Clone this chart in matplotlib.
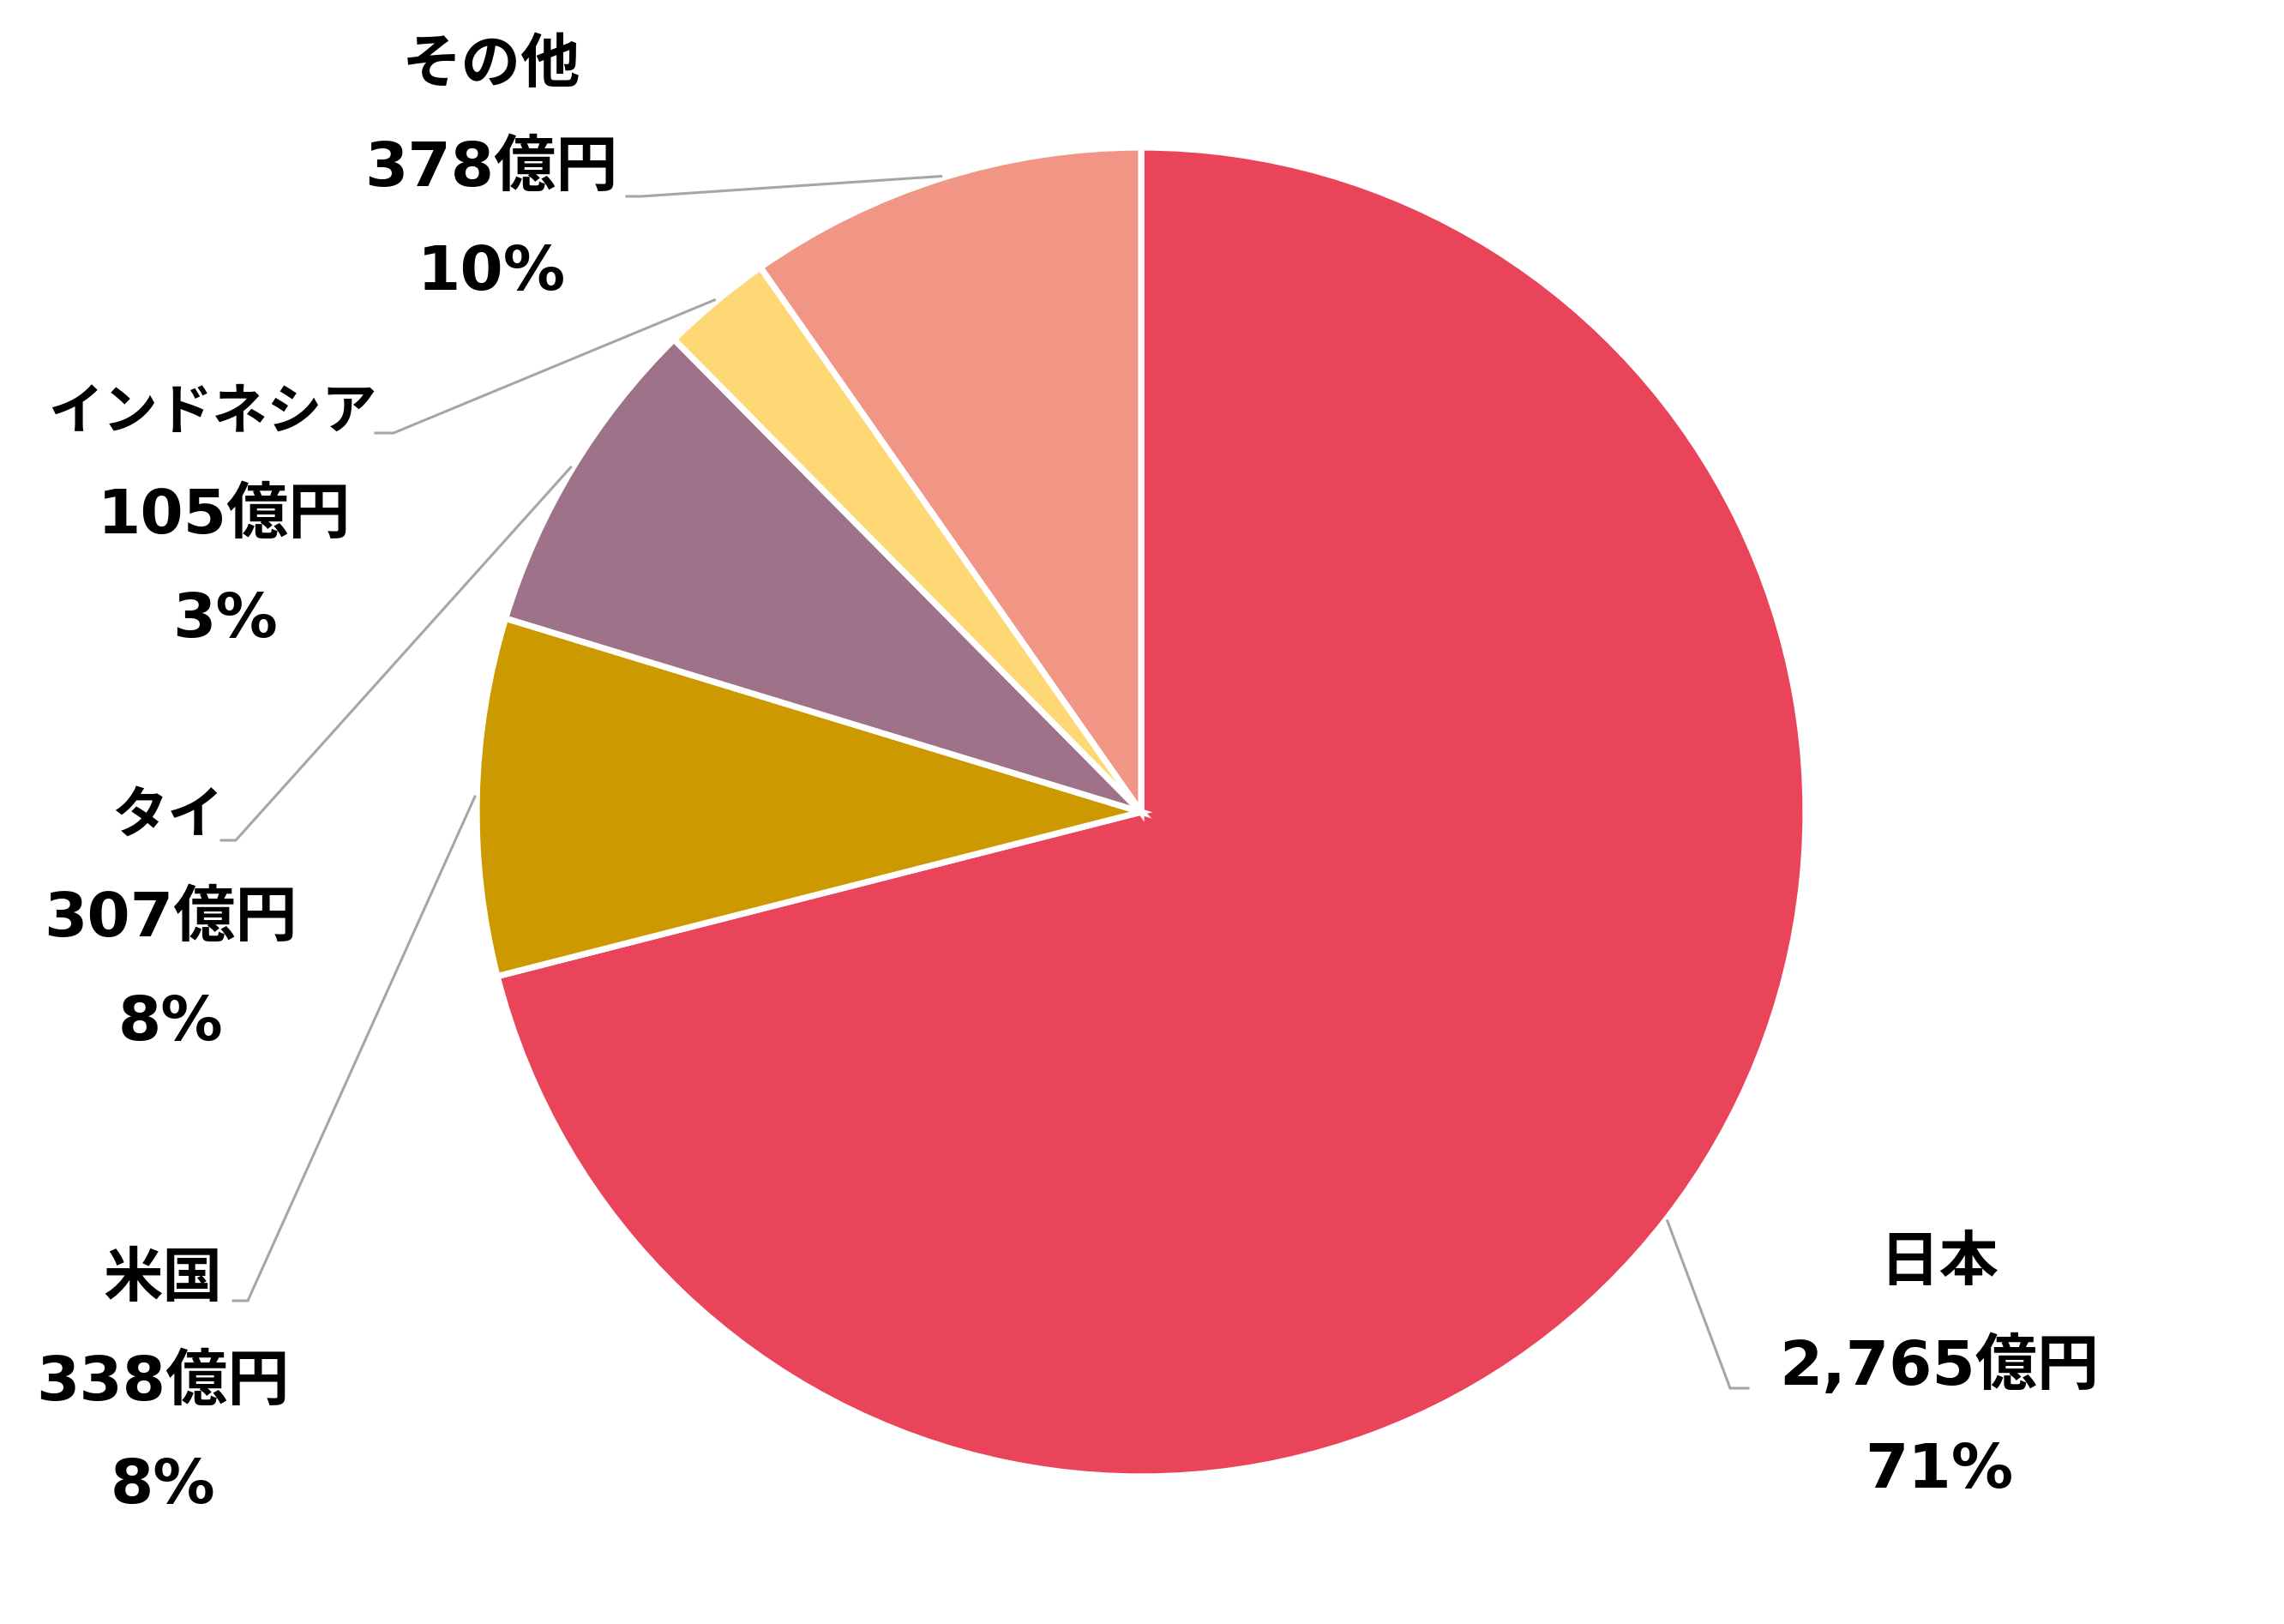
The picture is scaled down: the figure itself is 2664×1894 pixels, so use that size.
import matplotlib
matplotlib.use("Agg")
import matplotlib.pyplot as plt
import numpy as np

# ---- data ----
categories = ["日本", "米国", "タイ", "インドネシア", "その他"]
values = [2765, 338, 307, 105, 378]          # 億円
percents = [71, 8, 8, 3, 10]                  # % as labelled
colors = ["#E9445A", "#CC9900", "#9E7288", "#FED874", "#F19585"]

# ---- layout (pixels in the 2664x1894 canvas) ----
W, H, DPI = 2664, 1894, 200
CX, CY, R = 1331, 947, 775
label_pos = {
    "日本": (2262, 1473),
    "米国": (190, 1492),
    "タイ": (199, 951),
    "インドネシア": (262, 481),
    "その他": (573, 76),
}
name_dx = {"インドネシア": -14, "タイ": -4}
PITCH = 121
name_size = {"日本": 25, "米国": 25, "その他": 25, "タイ": 23.5, "インドネシア": 23}
elbows = {
    "日本": (2039, 2018, 1619),
    "米国": (272, 289, 1517),
    "タイ": (258, 275, 980),
    "インドネシア": (438, 459, 505),
    "その他": (731, 748, 229),
}

CJK = ['Noto Sans CJK JP', 'DejaVu Sans']
NUM = ['DejaVu Sans', 'Noto Sans CJK JP']
plt.rcParams['font.family'] = CJK

fig = plt.figure(figsize=(W / DPI, H / DPI), dpi=DPI)
ax = fig.add_axes([0, 0, 1, 1])
wedges, _ = ax.pie(values, colors=colors, startangle=90, counterclock=False,
                   radius=1.0,
                   wedgeprops=dict(edgecolor="white", linewidth=2.6))
ax.set_xlim(-CX / R, (W - CX) / R)
ax.set_ylim(-(H - CY) / R, CY / R)
ax.set_aspect("equal")
ax.axis("off")


def p2d(px, py):
    return (px - CX) / R, (CY - py) / R


for name, val, pct, w in zip(categories, values, percents, wedges):
    mid = np.deg2rad((w.theta1 + w.theta2) / 2)
    ax_, ay_ = 1.003 * np.cos(mid), 1.003 * np.sin(mid)
    tx, ex, ey = elbows[name]
    x0, y0 = p2d(tx, ey)
    x1, y1 = p2d(ex, ey)
    ax.plot([x0, x1, ax_], [y0, y1, ay_], color="#A6A6A6", lw=1.1,
            solid_joinstyle="miter", zorder=1)
    lx, ly = label_pos[name]
    x, y = p2d(lx + name_dx.get(name, 0), ly)
    ax.text(x, y, name, ha="center", va="center", fontsize=name_size[name],
            fontweight="bold", color="black", family=CJK)
    x, y = p2d(lx, ly + PITCH)
    ax.text(x, y, f"{val:,}億円", ha="center", va="center", fontsize=26,
            fontweight="bold", color="black", family=NUM)
    x, y = p2d(lx, ly + 2 * PITCH)
    ax.text(x, y, f"{pct}%", ha="center", va="center", fontsize=26,
            fontweight="bold", color="black", family=NUM)

fig.savefig("out.png", dpi=DPI, facecolor="white")
